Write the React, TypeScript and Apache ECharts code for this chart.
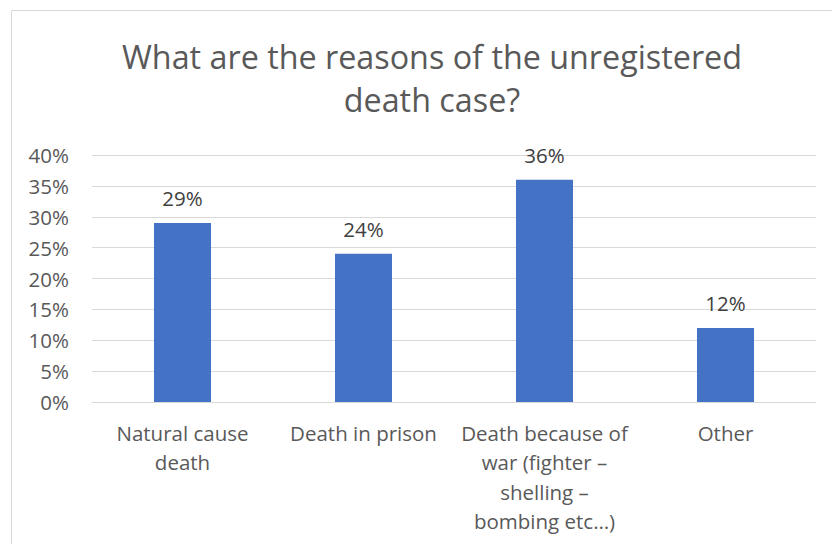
import React, { useEffect, useRef } from "react";
import * as echarts from "echarts";

const titleText = "What are the reasons of the unregistered\ndeath case?";
const categories = [
  "Natural cause\ndeath",
  "Death in prison",
  "Death because of\nwar (fighter –\nshelling –\nbombing etc…)",
  "Other",
];
const values = [29, 24, 36, 12];
const yMin = 0;
const yMax = 40;
const yInterval = 5;

export default function App() {
  const ref = useRef<HTMLDivElement>(null);
  useEffect(() => {
    if (!ref.current) return;
    const chart = echarts.init(ref.current, undefined, { renderer: "svg" });
    const font = "'Open Sans', 'Noto Sans', sans-serif";
    chart.setOption({
      animation: false,
      backgroundColor: "#ffffff",
      textStyle: { fontFamily: font },
      graphic: [
        {
          type: "rect",
          shape: { x: 11.5, y: 10.5, width: 900, height: 700 },
          style: { fill: "none", stroke: "#d9d9d9", lineWidth: 1 },
          silent: true,
          z: -1,
        },
      ],
      title: {
        text: titleText,
        left: 427,
        textAlign: "center",
        top: 29,
        textStyle: {
          fontFamily: font,
          fontSize: 32.3,
          fontWeight: "normal",
          color: "#595959",
          lineHeight: 43,
        },
      },
      grid: { left: 92, right: 16, top: 155, bottom: 142 },
      xAxis: {
        type: "category",
        data: categories,
        axisLine: { lineStyle: { color: "#d9d9d9", width: 1 } },
        axisTick: { show: false },
        axisLabel: {
          color: "#595959",
          fontSize: 20.5,
          fontFamily: font,
          lineHeight: 29.5,
          margin: 16,
          interval: 0,
        },
      },
      yAxis: {
        type: "value",
        min: yMin,
        max: yMax,
        interval: yInterval,
        axisLine: { show: false },
        axisTick: { show: false },
        splitLine: { lineStyle: { color: "#d9d9d9", width: 1 } },
        axisLabel: {
          formatter: "{value}%",
          color: "#595959",
          fontSize: 20.5,
          fontFamily: font,
          margin: 23,
        },
      },
      series: [
        {
          type: "bar",
          data: values,
          barWidth: "31.5%",
          itemStyle: { color: "#4472C4" },
          label: {
            show: true,
            position: "top",
            distance: 14,
            formatter: "{c}%",
            color: "#404040",
            fontSize: 20.5,
            fontFamily: font,
          },
        },
      ],
    });
    return () => chart.dispose();
  }, []);
  return (
    <div
      ref={ref}
      style={{ position: "fixed", left: 0, top: 0, width: 832, height: 544 }}
    />
  );
}
